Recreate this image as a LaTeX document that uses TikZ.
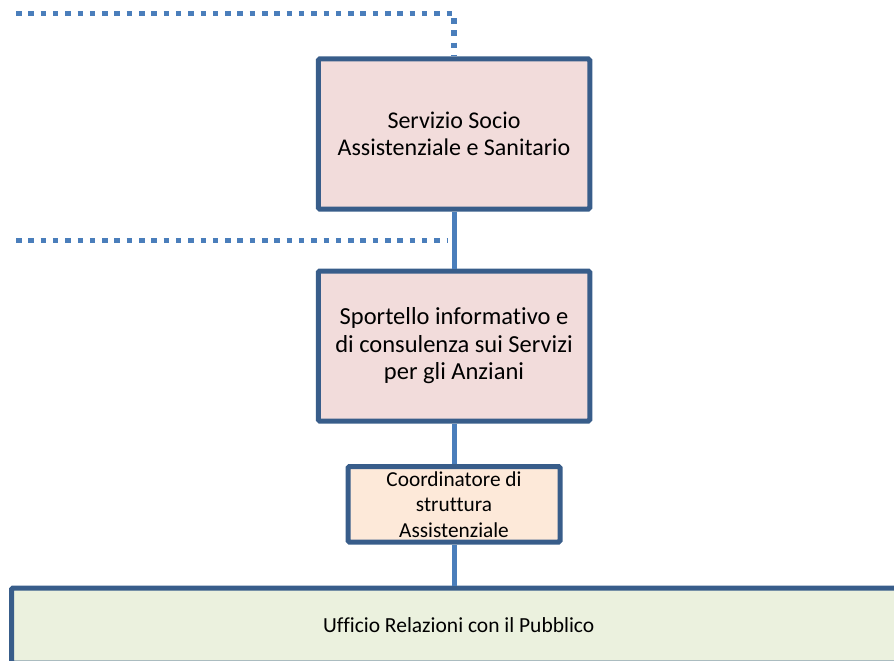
\documentclass[tikz,border=0pt]{standalone}
\usepackage{fontspec}
\setmainfont{Carlito}[Ligatures=NoCommon]
\definecolor{boxline}{HTML}{385D8A}
\definecolor{linkline}{HTML}{4A7EBB}
\definecolor{pinkfill}{HTML}{F2DCDB}
\definecolor{peachfill}{HTML}{FDE9D9}
\definecolor{greenfill}{HTML}{EBF1DE}
\tikzstyle{boxp}=[rectangle,draw=boxline,fill=pinkfill,line width=5pt,rounded corners=1.5pt,minimum width=271.5pt,minimum height=150pt,inner sep=0pt,align=center,font=\fontsize{24}{27.5}\selectfont]
\tikzstyle{boxo}=[rectangle,draw=boxline,fill=peachfill,line width=5pt,rounded corners=1.5pt,minimum width=212pt,minimum height=75.5pt,inner sep=0pt,align=center,font=\fontsize{21.3}{25.5}\selectfont]
\tikzstyle{boxg}=[rectangle,draw=boxline,fill=greenfill,line width=5pt,rounded corners=1.5pt,minimum width=894.5pt,minimum height=75pt,inner sep=0pt,font=\fontsize{21.5}{25.5}\selectfont]
\tikzstyle{link}=[draw=linkline,line width=5pt]
\tikzstyle{dotlink}=[draw=linkline,line width=5.5pt,dash pattern=on 5.5pt off 6.8pt]

\begin{document}
\begin{tikzpicture}[x=1pt,y=-1pt]
    \useasboundingbox (0,0) rectangle (894,661);
    \clip (0,0) rectangle (894,661);
    \node[boxp] (sss) at (454,134) {Servizio Socio\\Assistenziale e Sanitario};
    \node[boxp,font=\fontsize{24.5}{27.5}\selectfont] (spo) at (454,346) {Sportello informativo e\\di consulenza sui Servizi\\per gli Anziani};
    \node[boxo] (coo) at (454,504.25) {Coordinatore di\\struttura\\Assistenziale};
    \node[boxg] (urp) at (458.75,625.5) {Ufficio Relazioni con il Pubblico};
    \coordinate (d1) at (16,13.3);
    \coordinate (d2) at (16,240.5);
    \coordinate (d2e) at (447,240.5);

    \foreach \from/\to in {sss/spo,spo/coo,coo/urp}
    \draw[link] (\from.south) -- (\from.south |- \to.north);
    \draw[dotlink] (d1) -| (sss.north);
    \draw[dotlink] (d2) -- (d2e);
\end{tikzpicture}
\end{document}
